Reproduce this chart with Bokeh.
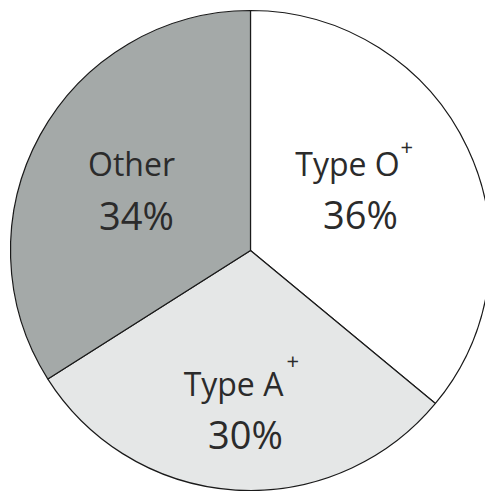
import math
from bokeh.plotting import figure
from bokeh.models import Range1d, ColumnDataSource
from bokeh.core.properties import value
from bokeh.embed import file_html
from bokeh.resources import INLINE

# ---- data ----
categories = ["Type O", "Type A", "Other"]
superscripts = ["+", "+", ""]
percents = [36, 30, 34]
colors = ["#ffffff", "#e5e7e7", "#a4a9a8"]

# ---- layout (pixels) ----
W, H = 485, 491
cx, cy, R = 250, 241, 240
# label offsets from centre: (name x, name baseline, pct x, pct baseline, sup left x, sup middle y)
label_layout = [
    (97, 87, 110, 37, 150, 104),
    (-17, -133, -5, -183, 36, -110),
    (-119, 87, -114, 36, None, None),
]

p = figure(width=W, height=H, x_range=Range1d(0, W), y_range=Range1d(0, H),
           output_backend="svg", toolbar_location=None, min_border=0)
p.axis.visible = False
p.grid.visible = False
p.outline_line_color = None
p.background_fill_color = "white"

# angles: start at 12 o'clock, clockwise
total = sum(percents)
starts, ends = [], []
cum = 0
for v in percents:
    a0 = math.pi / 2 - 2 * math.pi * cum / total
    cum += v
    a1 = math.pi / 2 - 2 * math.pi * cum / total
    starts.append(a1)
    ends.append(a0)

src = ColumnDataSource(dict(x=[cx] * len(percents), y=[cy] * len(percents),
                            s=starts, e=ends, c=colors))
p.wedge(x="x", y="y", radius=R, start_angle="s", end_angle="e", fill_color="c",
        line_color="#1a1a1a", line_width=1.2, source=src)

font = value("Open Sans")
tc = "#2b2b2b"
nx, ny, names, px, py, pcts, sx, sy, sups = [], [], [], [], [], [], [], [], []
for cat, sup, pct, lay in zip(categories, superscripts, percents, label_layout):
    nx.append(cx + lay[0]); ny.append(cy + lay[1]); names.append(cat)
    px.append(cx + lay[2]); py.append(cy + lay[3]); pcts.append(f"{pct}%")
    if sup:
        sx.append(cx + lay[4]); sy.append(cy + lay[5]); sups.append(sup)

p.text(x=nx, y=ny, text=names, text_font=font, text_font_size="32px",
       text_align="center", text_baseline="alphabetic", text_color=tc)
p.text(x=px, y=py, text=pcts, text_font=font, text_font_size="38px",
       text_align="center", text_baseline="alphabetic", text_color=tc)
p.text(x=sx, y=sy, text=sups, text_font=font, text_font_size="22px",
       text_align="left", text_baseline="middle", text_color=tc)

open("out.html", "w").write(file_html(p, INLINE))
